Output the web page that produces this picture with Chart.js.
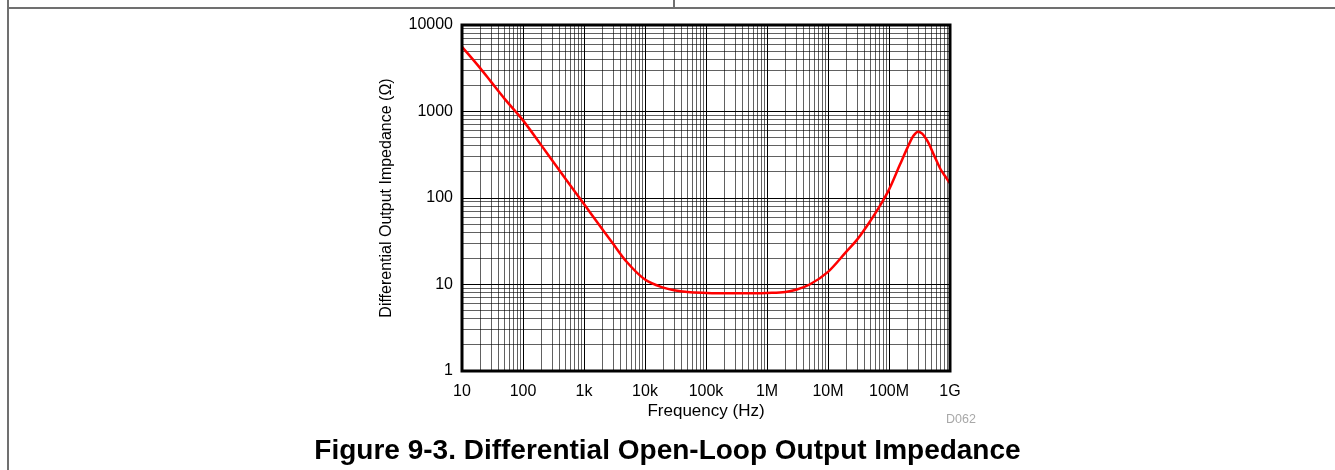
<!DOCTYPE html>
<html lang="en">
<head>
  <meta charset="UTF-8">
  <title>Differential Open-Loop Output Impedance</title>
  <script src="https://cdn.jsdelivr.net/npm/chart.js"></script>
  <style>
    body { margin: 0; background: #fff; font-family: "Liberation Sans", Arial, sans-serif; }
    #page { position: relative; width: 1335px; height: 470px; overflow: hidden; }
    #wrap { position: absolute; left: 0; top: 0; width: 1335px; height: 470px; }
    .rule { position: absolute; background: #707070; }
    #code { position: absolute; left: 946px; top: 412px; font-size: 12.5px; color: #a8a8a8; }
    #caption { position: absolute; left: 0; width: 1335px; top: 434px; text-align: center;
               font-size: 28px; font-weight: bold; color: #000; }
  </style>
</head>
<body>
  <div id="page">
    <!-- page frame -->
    <div class="rule" style="left:8px; top:7px; width:1327px; height:1.5px;"></div>
    <div class="rule" style="left:7px; top:0; width:1.5px; height:470px;"></div>
    <div class="rule" style="left:673px; top:0; width:1.5px; height:8px;"></div>

    <div id="wrap"><canvas id="impedanceChart"></canvas></div>
    <div id="code">D062</div>
    <div id="caption">Figure 9-3. Differential Open-Loop Output Impedance</div>
  </div>

  <script>
    // values
    const freqHz = [10, 20, 30, 50, 100, 200, 300, 500, 1e3, 2e3, 3e3, 5e3, 1e4, 2e4, 3e4, 5e4,
      1e5, 2e5, 5e5, 1e6, 2e6, 3e6, 5e6, 1e7, 2e7, 3e7, 5e7, 7e7, 1e8, 1.5e8, 2e8, 2.5e8,
      3e8, 3.5e8, 4e8, 4.5e8, 5.5e8, 7e8, 8.5e8, 1e9];
    const impedanceOhm = [5600, 3150, 2200, 1400, 790, 406, 273, 166, 85, 43.5, 29.5, 18.3, 11.4, 9.2, 8.6, 8.2,
      8, 7.9, 7.9, 8, 8.2, 8.7, 10, 14, 24, 33, 55, 80, 125, 240, 380, 520,
      585, 555, 490, 425, 310, 215, 175, 148];

    const xDecades = [10, 100, 1e3, 1e4, 1e5, 1e6, 1e7, 1e8, 1e9];
    const xTickLabels = ['10', '100', '1k', '10k', '100k', '1M', '10M', '100M', '1G'];
    const yDecades = [1, 10, 100, 1000, 10000];
    const yTickLabels = ['1', '10', '100', '1000', '10000'];

    // decade + 2..9 minor positions for the grid
    function logTicks(decades) {
      const out = [];
      decades.forEach((d, i) => {
        out.push({ value: d });
        if (i < decades.length - 1) {
          for (let m = 2; m <= 9; m++) out.push({ value: d * m });
        }
      });
      return out;
    }
    function isDecade(v) {
      const l = Math.log10(v);
      return Math.abs(l - Math.round(l)) < 1e-6;
    }
    const gridColor = ctx => (ctx.tick && isDecade(ctx.tick.value)) ? '#000' : 'rgba(0,0,0,0.62)';

    const font = { family: '"Liberation Sans", Arial, sans-serif', size: 16 };

    // heavy frame around the plot area
    const plotFrame = {
      id: 'plotFrame',
      afterDraw(chart) {
        const { ctx, chartArea: a } = chart;
        ctx.save();
        ctx.strokeStyle = '#000';
        ctx.lineWidth = 3;
        ctx.strokeRect(a.left, a.top, a.right - a.left, a.bottom - a.top);
        ctx.restore();
      }
    };

    new Chart(document.getElementById('impedanceChart'), {
      type: 'scatter',
      data: {
        datasets: [{
          data: freqHz.map((f, i) => ({ x: f, y: impedanceOhm[i] })),
          showLine: true,
          borderColor: '#ff0000',
          borderWidth: 2.5,
          pointRadius: 0,
          cubicInterpolationMode: 'monotone'
        }]
      },
      options: {
        responsive: true,
        maintainAspectRatio: false,
        animation: false,
        layout: { padding: { left: 374, right: 385, top: 25, bottom: 48 } },
        plugins: { legend: { display: false }, tooltip: { enabled: false } },
        scales: {
          x: {
            type: 'logarithmic',
            min: 10, max: 1e9,
            afterBuildTicks: s => { s.ticks = logTicks(xDecades); },
            afterFit: s => { s.height = 51; },
            grid: { color: gridColor, lineWidth: 1, drawTicks: false },
            border: { display: false },
            ticks: {
              autoSkip: false, maxRotation: 0, padding: 11, color: '#000', font,
              callback: v => { const i = xDecades.indexOf(v); return i >= 0 ? xTickLabels[i] : ''; }
            },
            title: { display: true, text: 'Frequency (Hz)', color: '#000', padding: 0,
                     font: { family: font.family, size: 17 } }
          },
          y: {
            type: 'logarithmic',
            min: 1, max: 10000,
            afterBuildTicks: s => { s.ticks = logTicks(yDecades); },
            afterFit: s => { s.width = 88; },
            grid: { color: gridColor, lineWidth: 1, drawTicks: false },
            border: { display: false },
            ticks: {
              autoSkip: false, padding: 9, color: '#000', font,
              callback: v => { const i = yDecades.indexOf(v); return i >= 0 ? yTickLabels[i] : ''; }
            },
            title: { display: true, text: 'Differential Output Impedance (\u03A9)', color: '#000',
                     padding: { top: 3, bottom: 0 }, font: { family: font.family, size: 16 } }
          }
        }
      },
      plugins: [plotFrame]
    });
  </script>
</body>
</html>
